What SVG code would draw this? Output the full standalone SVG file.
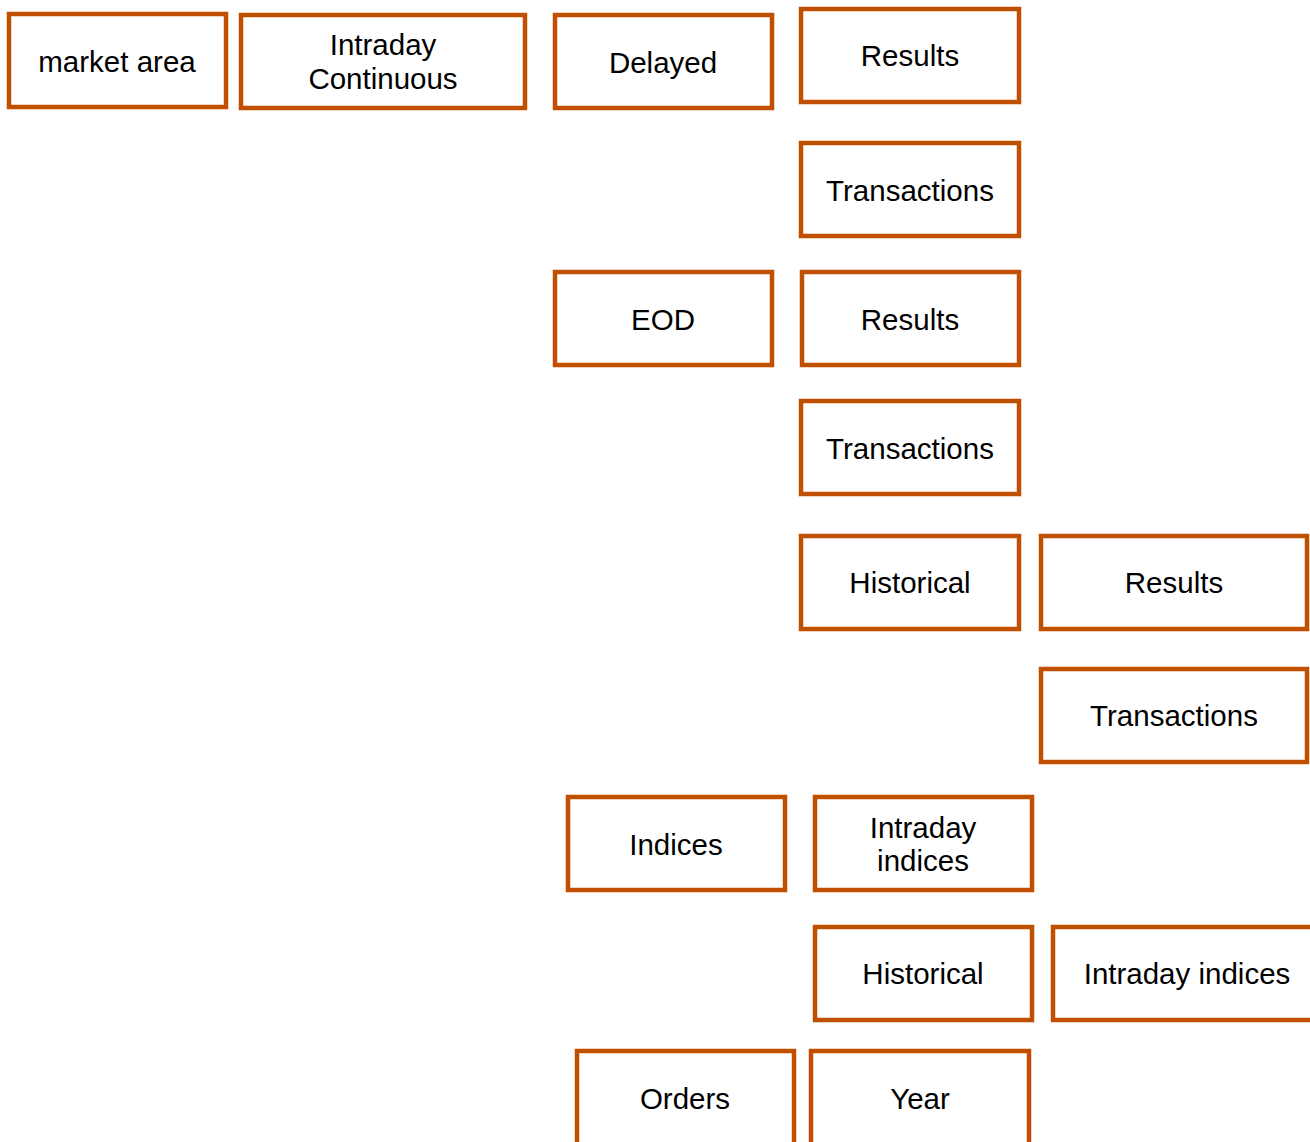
<svg xmlns="http://www.w3.org/2000/svg" width="1310" height="1142" viewBox="0 0 1310 1142">
<style>
rect.n{fill:#fff;stroke:#C04F00;stroke-width:4.5}
text{font-family:"Liberation Sans",Arial,sans-serif;font-size:29.5px;fill:#000;text-anchor:middle}
</style>
<rect width="1310" height="1142" fill="#fff"/>
<g id="connectors"></g>
<g id="n-market-area"><rect class="n" x="9" y="14" width="217" height="93"/><text x="117" y="72">market area</text></g>
<g id="n-intraday-continuous"><rect class="n" x="241" y="15" width="284" height="93"/><text x="383" y="55">Intraday</text><text x="383" y="89">Continuous</text></g>
<g id="n-delayed"><rect class="n" x="555" y="15" width="217" height="93"/><text x="663" y="73">Delayed</text></g>
<g id="n-delayed-results"><rect class="n" x="801" y="9" width="218" height="93"/><text x="910" y="66">Results</text></g>
<g id="n-delayed-transactions"><rect class="n" x="801" y="143" width="218" height="93"/><text x="910" y="201">Transactions</text></g>
<g id="n-eod"><rect class="n" x="555" y="272" width="217" height="93"/><text x="663" y="330">EOD</text></g>
<g id="n-eod-results"><rect class="n" x="802" y="272" width="217" height="93"/><text x="910" y="330">Results</text></g>
<g id="n-eod-transactions"><rect class="n" x="801" y="401" width="218" height="93"/><text x="910" y="459">Transactions</text></g>
<g id="n-historical"><rect class="n" x="801" y="536" width="218" height="93"/><text x="910" y="593">Historical</text></g>
<g id="n-historical-results"><rect class="n" x="1041" y="536" width="266" height="93"/><text x="1174" y="593">Results</text></g>
<g id="n-historical-transactions"><rect class="n" x="1041" y="669" width="266" height="93"/><text x="1174" y="726">Transactions</text></g>
<g id="n-indices"><rect class="n" x="568" y="797" width="217" height="93"/><text x="676" y="855">Indices</text></g>
<g id="n-intraday-indices"><rect class="n" x="815" y="797" width="217" height="93"/><text x="923" y="838">Intraday</text><text x="923" y="871">indices</text></g>
<g id="n-indices-historical"><rect class="n" x="815" y="927" width="217" height="93"/><text x="923" y="984">Historical</text></g>
<g id="n-historical-intraday-indices"><rect class="n" x="1053" y="927" width="260" height="93"/><text x="1187" y="984">Intraday indices</text></g>
<g id="n-orders"><rect class="n" x="577" y="1051" width="217" height="100"/><text x="685" y="1109">Orders</text></g>
<g id="n-year"><rect class="n" x="811" y="1051" width="218" height="100"/><text x="920" y="1109">Year</text></g>
</svg>
